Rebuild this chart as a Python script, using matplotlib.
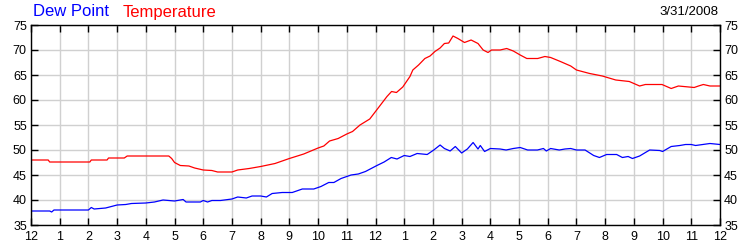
import matplotlib
matplotlib.use('Agg')
import matplotlib.pyplot as plt

plt.rcParams['font.family'] = ['Liberation Sans', 'DejaVu Sans']

# hours since midnight (0-24)
temp_hours = [0, 0.6, 0.65, 2.05, 2.1, 2.65, 2.7, 3.25, 3.35, 4.8, 4.9, 5.0, 5.2, 5.5, 5.7, 6.0, 6.3, 6.5,
              7.0, 7.2, 7.6, 8.0, 8.5, 9.0, 9.5, 10.0, 10.2, 10.4, 10.7, 11.0, 11.2, 11.46, 11.8, 12.04,
              12.2, 12.4, 12.56, 12.73, 12.95, 13.2, 13.3, 13.5, 13.72, 13.9, 14.07, 14.25, 14.4, 14.55, 14.7,
              14.87, 15.1, 15.33, 15.57, 15.75, 15.92, 16.04, 16.34, 16.57, 16.8, 17.04, 17.27, 17.65,
              17.9, 18.1, 18.44, 18.8, 19.0, 19.46, 19.9, 20.37, 20.84, 21.2, 21.4, 21.98, 22.3, 22.55,
              23.1, 23.25, 23.42, 23.65, 24.0]
temperature = [48.0, 48.0, 47.6, 47.6, 48.0, 48.0, 48.4, 48.4, 48.8, 48.8, 48.3, 47.5, 46.9, 46.8, 46.4, 46.0, 45.9, 45.6,
               45.6, 46.0, 46.3, 46.7, 47.3, 48.3, 49.2, 50.4, 50.8, 51.8, 52.3, 53.2, 53.7, 55.0, 56.2, 58.0,
               59.2, 60.7, 61.7, 61.5, 62.6, 64.7, 66.0, 67.0, 68.3, 68.8, 69.7, 70.4, 71.3, 71.4, 72.8,
               72.3, 71.5, 72.0, 71.3, 70.0, 69.5, 70.0, 70.0, 70.3, 69.8, 69.0, 68.3, 68.3,
               68.7, 68.5, 67.7, 66.8, 66.0, 65.3, 64.8, 64.0, 63.7, 62.8, 63.1, 63.1, 62.3, 62.8,
               62.5, 62.8, 63.1, 62.8, 62.8]

dew_hours = [0, 0.65, 0.72, 0.8, 2.0, 2.1, 2.2, 2.6, 3.0, 3.3, 3.5, 4.0, 4.3, 4.6, 5.0, 5.3, 5.4, 5.9, 6.0, 6.15,
             6.3, 6.6, 7.0, 7.2, 7.5, 7.7, 8.0, 8.2, 8.4, 8.75, 9.1, 9.45, 9.85, 10.1, 10.37, 10.55, 10.8,
             11.15, 11.4, 11.65, 11.85, 12.05, 12.3, 12.55, 12.75, 13.0, 13.2, 13.45, 13.8, 14.03, 14.25,
             14.4, 14.6, 14.78, 15.0, 15.2, 15.4, 15.57, 15.65, 15.8, 16.0, 16.34, 16.55, 16.8, 17.04,
             17.3, 17.64, 17.85, 17.95, 18.1, 18.4, 18.6, 18.8, 19.0, 19.3, 19.6, 19.8, 20.05, 20.4,
             20.6, 20.8, 20.95, 21.2, 21.55, 21.9, 22.0, 22.3, 22.6, 22.8, 23.0, 23.15, 23.4, 23.65, 24.0]
dew_point = [37.8, 37.8, 37.6, 38.0, 38.0, 38.5, 38.2, 38.4, 39.0, 39.1, 39.3, 39.4, 39.6, 40.0, 39.8, 40.1, 39.6, 39.6, 39.9, 39.6,
             39.9, 39.9, 40.2, 40.6, 40.4, 40.8, 40.8, 40.6, 41.3, 41.5, 41.5, 42.2, 42.2, 42.7, 43.5, 43.5, 44.3,
             45.0, 45.2, 45.7, 46.3, 46.9, 47.6, 48.5, 48.2, 48.9, 48.7, 49.3, 49.1, 50.0, 51.0,
             50.3, 49.8, 50.7, 49.4, 50.2, 51.5, 50.2, 50.9, 49.7, 50.3, 50.2, 50.0, 50.3, 50.5,
             50.0, 50.0, 50.3, 49.8, 50.3, 50.0, 50.2, 50.3, 50.0, 50.0, 48.9, 48.5, 49.1, 49.1,
             48.5, 48.7, 48.3, 48.8, 50.0, 49.9, 49.7, 50.7, 50.9, 51.1, 51.1, 50.9, 51.1, 51.3, 51.1]

hour_ticks = list(range(0, 25))
hour_labels = ['12', '1', '2', '3', '4', '5', '6', '7', '8', '9', '10', '11',
               '12', '1', '2', '3', '4', '5', '6', '7', '8', '9', '10', '11', '12']
y_ticks = [35, 40, 45, 50, 55, 60, 65, 70, 75]

fig = plt.figure(figsize=(7.5, 2.5), dpi=100)
ax = fig.add_axes([31 / 750, 0.1, 689 / 750, 0.8])

ax.plot(dew_hours, dew_point, color='#0000ff', linewidth=0.9)
ax.plot(temp_hours, temperature, color='#ff0000', linewidth=0.9)

ax.set_xlim(0, 24)
ax.set_ylim(35, 75)
ax.set_xticks(hour_ticks)
ax.set_xticklabels(hour_labels)
ax.set_yticks(y_ticks)
ax.grid(True, color='#d0d0d0', linewidth=1.0)
ax.set_axisbelow(True)
ax.tick_params(direction='in', length=5, width=1, color='black', labelsize=9,
               top=True, right=True, labelright=True, pad=3)
ax.tick_params(axis='x', pad=4)
for s in ax.spines.values():
    s.set_color('black')
    s.set_linewidth(1)

fig.text(33 / 750, 1 - 12 / 250, 'Dew Point', color='#0000ff', fontsize=12, va='center', ha='left')
fig.text(123 / 750, 1 - 12 / 250, 'Temperature', color='#ff0000', fontsize=12, va='center', ha='left')
fig.text(718 / 750, 1 - 12 / 250, '3/31/2008', color='black', fontsize=9.5, va='center', ha='right')

plt.savefig('out.png', dpi=100)
plt.close()
